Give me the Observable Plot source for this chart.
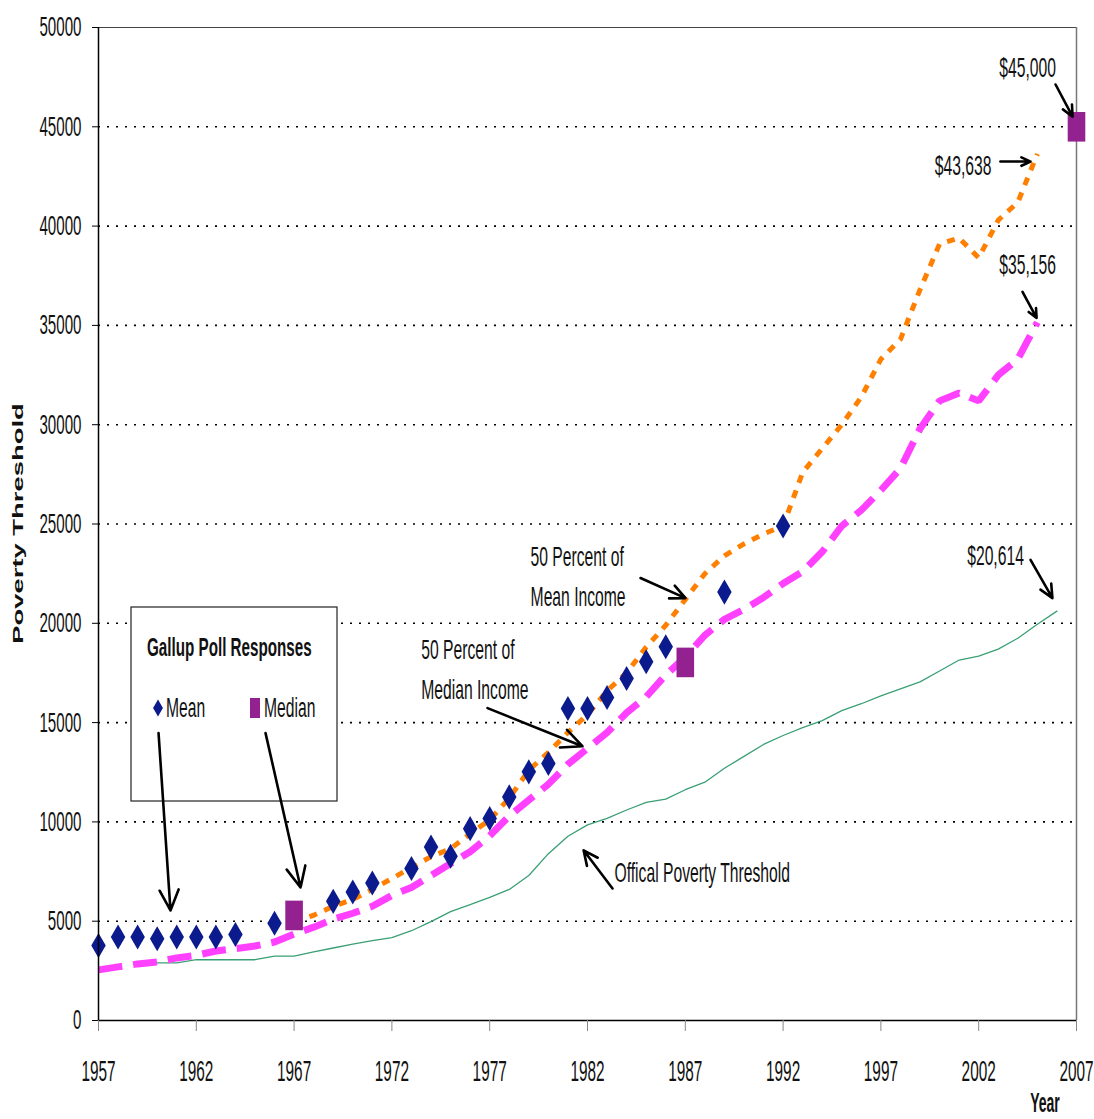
<!DOCTYPE html>
<html><head><meta charset="utf-8">
<script src="https://cdn.jsdelivr.net/npm/d3@7"></script>
<script src="https://cdn.jsdelivr.net/npm/@observablehq/plot@0.6"></script>
<style>body{margin:0;background:#fff;overflow:hidden}</style>
</head><body><div id="chart"></div>
<script>
// ---- data ----
const xTicks = [1957, 1962, 1967, 1972, 1977, 1982, 1987, 1992, 1997, 2002, 2007];
const yTicks = [0, 5000, 10000, 15000, 20000, 25000, 30000, 35000, 40000, 45000, 50000];

const povertyYears = [1959,1960,1961,1962,1963,1964,1965,1966,1967,1968,1969,1970,1971,1972,1973,1974,1975,1976,1977,1978,1979,1980,1981,1982,1983,1984,1985,1986,1987,1988,1989,1990,1991,1992,1993,1994,1995,1996,1997,1998,1999,2000,2001,2002,2003,2004,2005,2006];
const povertyValues = [2900,2900,2900,3060,3060,3060,3060,3240,3240,3450,3650,3850,4020,4170,4520,4980,5480,5830,6200,6600,7300,8400,9280,9850,10180,10600,10980,11150,11620,12000,12700,13300,13900,14350,14750,15100,15600,15950,16350,16700,17050,17600,18150,18350,18700,19250,19950,20614];

const meanIncYears = [1967,1968,1969,1970,1971,1972,1973,1974,1975,1976,1977,1978,1979,1980,1981,1982,1983,1984,1985,1986,1987,1988,1989,1990,1991,1992,1993,1994,1995,1996,1997,1998,1999,2000,2001,2002,2003,2004,2005];
const meanIncValues = [5000,5300,5750,6100,6600,7150,7700,8250,8650,9400,10100,11200,12600,13500,14500,15400,16600,17500,18800,19900,21200,22500,23400,24000,24500,24900,27600,28800,30000,31400,33300,34300,36800,39100,39400,38400,40300,41200,43638];

const medianIncYears = [1957,1958,1959,1960,1961,1962,1963,1964,1965,1966,1967,1968,1969,1970,1971,1972,1973,1974,1975,1976,1977,1978,1979,1980,1981,1982,1983,1984,1985,1986,1987,1988,1989,1990,1991,1992,1993,1994,1995,1996,1997,1998,1999,2000,2001,2002,2003,2004,2005];
const medianIncValues = [2550,2700,2850,2950,3150,3280,3500,3620,3750,3950,4350,4700,5100,5400,5750,6300,6700,7300,7900,8500,9300,10300,11100,11900,12900,13700,14500,15500,16300,17400,18300,19400,20200,20700,21300,22000,22600,23600,24900,25700,26700,27800,29800,31200,31600,31200,32500,33300,35156];

const gallupMeanYears = [1957,1958,1959,1960,1961,1962,1963,1964,1966,1967,1969,1970,1971,1973,1974,1975,1976,1977,1978,1979,1980,1981,1982,1983,1984,1985,1986,1989,1992];
const gallupMeanValues = [3780,4200,4200,4120,4200,4200,4200,4330,4900,5400,6000,6470,6920,7650,8730,8270,9660,10170,11260,12520,12940,15710,15710,16260,17220,18060,18820,21570,24900];

const gallupMedianYears = [1967,1987,2007];
const gallupMedianValues = [5290,18030,45000];

// annotations (data coordinates)
const noteTexts = ["$45,000","$43,638","$35,156","$20,614","50 Percent of","Mean Income","50 Percent of","Median Income","Offical Poverty Threshold"];
const noteYears = [2004.5,2001.2,2004.5,2002.86,1979.09,1979.09,1973.5,1973.5,1983.38];
const noteValues = [47980,43040,38050,23390,23340,21320,18650,16630,7410];
const noteAnchors = ["middle","middle","middle","middle","start","start","start","start","start"];

const arrowFromYears = [2005.93,2003.11,2004.24,2004.65,1984.71,1976.89,1983.28,1960.07,1965.54];
const arrowFromValues = [47130,43250,36690,23190,22280,15730,6650,14470,14470];
const arrowToYears = [2006.8,2004.65,2004.96,2005.77,1987.01,1981.74,1981.8,1960.68,1967.33];
const arrowToValues = [45510,43250,35380,21270,21270,13810,8570,5540,6700];

// ---- build tables ----
const poverty = povertyYears.map((y,i)=>({year:y, value:povertyValues[i]}));
const meanInc = meanIncYears.map((y,i)=>({year:y, value:meanIncValues[i]}));
const medianInc = medianIncYears.map((y,i)=>({year:y, value:medianIncValues[i]}));
const gMean = gallupMeanYears.map((y,i)=>({year:y, value:gallupMeanValues[i]}));
const gMedian = gallupMedianYears.map((y,i)=>({year:y, value:gallupMedianValues[i]}));
const notes = noteTexts.map((t,i)=>({text:t, year:noteYears[i], value:noteValues[i], anchor:noteAnchors[i]}));
const arrows = arrowFromYears.map((x,i)=>({x1:x, y1:arrowFromValues[i], x2:arrowToYears[i], y2:arrowToValues[i]}));

const NAVY = "#0B1A8C", PURPLE = "#932290", ORANGE = "#FF8000", MAGENTA = "#FF40FF", GREEN = "#3A9F74";
const FONT = "'Liberation Sans', Arial, sans-serif";

const tallSquare = {draw(ctx, size){ const r = Math.sqrt(size/Math.PI); const w = r*1.1, h = r*1.85; ctx.rect(-w,-h,2*w,2*h); }};

function decorations(index, scales, values, dim) {
  const g = d3.create("svg:g").attr("font-family", FONT).attr("fill", "#111").attr("text-anchor", "start");
  // legend box
  const lx = 131, ly = 607;
  g.append("rect").attr("x", lx).attr("y", ly).attr("width", 206).attr("height", 194)
    .attr("fill", "white").attr("stroke", "#222").attr("stroke-width", 1.2);
  g.append("text").attr("transform", `translate(${lx+16},${ly+40}) scale(0.585,1)`)
    .attr("dy", "0.35em").attr("font-size", 26).attr("font-weight", "bold").text("Gallup Poll Responses");
  g.append("path").attr("d", d3.symbol(d3.symbolDiamond, 84)()).attr("transform", `translate(${lx+27},${ly+101})`).attr("fill", NAVY);
  g.append("text").attr("transform", `translate(${lx+35},${ly+101}) scale(0.58,1)`)
    .attr("dy", "0.35em").attr("font-size", 27).text("Mean");
  g.append("rect").attr("x", lx+119).attr("y", ly+91).attr("width", 10).attr("height", 20).attr("fill", PURPLE);
  g.append("text").attr("transform", `translate(${lx+133},${ly+101}) scale(0.58,1)`)
    .attr("dy", "0.35em").attr("font-size", 27).text("Median");
  // axis titles
  g.append("text").attr("transform", `translate(18,${(dim.marginTop + dim.height - dim.marginBottom)/2}) rotate(-90) scale(1.78,1)`)
    .attr("text-anchor", "middle").attr("dy", "0.35em").attr("font-size", 15.4).attr("font-weight", "bold").text("Poverty Threshold");
  g.append("text").attr("transform", `translate(1045,${dim.height - 7}) scale(0.52,1)`)
    .attr("text-anchor", "middle").attr("font-size", 27).attr("font-weight", "bold").text("Year");
  return g.node();
}

const chart = Plot.plot({
  width: 1094, height: 1119,
  marginLeft: 98, marginRight: 18, marginTop: 27, marginBottom: 99,
  style: {fontFamily: FONT, background: "white", color: "#111"},
  x: {type: "linear", domain: [1957, 2007]},
  y: {domain: [0, 50000]},
  marks: [
    Plot.gridY(yTicks.filter(d => d > 0 && d < 50000), {stroke: "#000", strokeOpacity: 1, strokeWidth: 1.6, strokeDasharray: "2,7"}),
    Plot.ruleY([50000], {stroke: "#444", strokeWidth: 1.2}),
    Plot.ruleX([2007], {stroke: "#777", strokeWidth: 1.5}),
    Plot.line(poverty, {x: "year", y: "value", stroke: GREEN, strokeWidth: 1.3}),
    Plot.line(meanInc, {x: "year", y: "value", stroke: ORANGE, strokeWidth: 5, strokeDasharray: "8,8", strokeLinecap: "butt", strokeLinejoin: "miter"}),
    Plot.line(medianInc, {x: "year", y: "value", stroke: MAGENTA, strokeWidth: 7, strokeDasharray: "24,11", strokeLinecap: "butt", strokeLinejoin: "miter"}),
    Plot.dot(gMean, {x: "year", y: "value", symbol: "diamond", r: 7.6, fill: NAVY, stroke: "none"}),
    Plot.dot(gMedian, {x: "year", y: "value", symbol: tallSquare, r: 8, fill: PURPLE, stroke: "none"}),
    decorations,
    Plot.arrow(arrows, {x1: "x1", y1: "y1", x2: "x2", y2: "y2", stroke: "#000", strokeWidth: 2.6, headLength: 13, headAngle: 50}),
    Plot.text(notes.filter(d => d.anchor === "middle"), {x: "year", y: "value", text: "text", textAnchor: "middle", fontSize: 28, fill: "#111"}),
    Plot.text(notes.filter(d => d.anchor === "start"), {x: "year", y: "value", text: "text", textAnchor: "start", fontSize: 28, fill: "#111"}),
    Plot.ruleY([0], {stroke: "#000", strokeWidth: 1.5}),
    Plot.ruleX([1957], {stroke: "#000", strokeWidth: 1.5}),
    Plot.axisY({ticks: yTicks, tickFormat: d => String(d), tickSize: 6, tickPadding: 11, fontSize: 28, label: null, stroke: "#000"}),
    Plot.axisX({ticks: xTicks, tickFormat: d => String(d), tickSize: 11, tickPadding: 29, fontSize: 29, label: null, stroke: "#888"})
  ]
});
document.getElementById("chart").appendChild(chart);

const svg = d3.select(chart.tagName === "svg" ? chart : chart.querySelector("svg"));
function squeeze(sel, s) {
  sel.each(function() {
    const t = this.getAttribute("transform") || "";
    this.setAttribute("transform", t + ` scale(${s},1)`);
  });
}
squeeze(svg.selectAll('g[aria-label="y-axis tick label"] text'), 0.54);
squeeze(svg.selectAll('g[aria-label="x-axis tick label"] text'), 0.53);
squeeze(svg.selectAll('g[aria-label="text"] text'), 0.56);
</script>
</body></html>
